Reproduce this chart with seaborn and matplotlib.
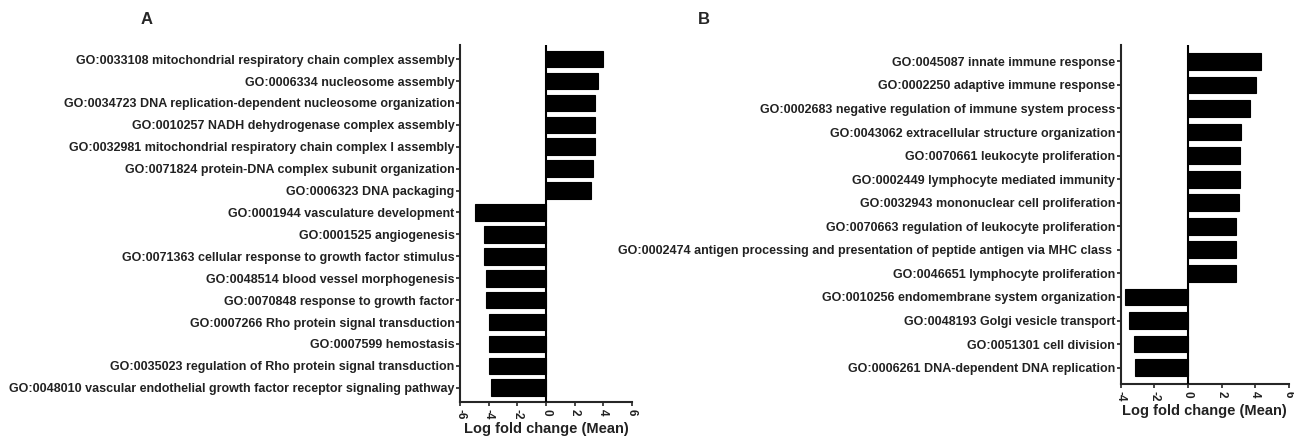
import pandas as pd
import numpy as np
import matplotlib.pyplot as plt
import seaborn as sns

# Panel A: GO terms and mean log fold change
terms_a = [
    "GO:0033108 mitochondrial respiratory chain complex assembly",
    "GO:0006334 nucleosome assembly",
    "GO:0034723 DNA replication-dependent nucleosome organization",
    "GO:0010257 NADH dehydrogenase complex assembly",
    "GO:0032981 mitochondrial respiratory chain complex I assembly",
    "GO:0071824 protein-DNA complex subunit organization",
    "GO:0006323 DNA packaging",
    "GO:0001944 vasculature development",
    "GO:0001525 angiogenesis",
    "GO:0071363 cellular response to growth factor stimulus",
    "GO:0048514 blood vessel morphogenesis",
    "GO:0070848 response to growth factor",
    "GO:0007266 Rho protein signal transduction",
    "GO:0007599 hemostasis",
    "GO:0035023 regulation of Rho protein signal transduction",
    "GO:0048010 vascular endothelial growth factor receptor signaling pathway",
]
lfc_a = [4.0, 3.6, 3.45, 3.45, 3.45, 3.3, 3.15,
         -4.95, -4.3, -4.3, -4.2, -4.2, -4.0, -3.95, -3.95, -3.85]
ticks_a = [-6, -4, -2, 0, 2, 4, 6]

# Panel B
terms_b = [
    "GO:0045087 innate immune response",
    "GO:0002250 adaptive immune response",
    "GO:0002683 negative regulation of immune system process",
    "GO:0043062 extracellular structure organization",
    "GO:0070661 leukocyte proliferation",
    "GO:0002449 lymphocyte mediated immunity",
    "GO:0032943 mononuclear cell proliferation",
    "GO:0070663 regulation of leukocyte proliferation",
    "GO:0002474 antigen processing and presentation of peptide antigen via MHC class ",
    "GO:0046651 lymphocyte proliferation",
    "GO:0010256 endomembrane system organization",
    "GO:0048193 Golgi vesicle transport",
    "GO:0051301 cell division",
    "GO:0006261 DNA-dependent DNA replication",
]
lfc_b = [4.32, 4.05, 3.67, 3.18, 3.1, 3.1, 3.02, 2.88, 2.88, 2.84,
         -3.75, -3.49, -3.2, -3.17]
ticks_b = [-4, -2, 0, 2, 4, 6]

sns.set_style("ticks")
plt.rcParams['font.family'] = ['Liberation Sans', 'DejaVu Sans']
plt.rcParams['font.weight'] = 'bold'

fig = plt.figure(figsize=(12.94, 4.4), dpi=100)
ax_a = fig.add_axes([0.3555, 0.0864, 0.1329, 0.8116])
ax_b = fig.add_axes([0.866, 0.127, 0.130, 0.771])


def draw_panel(ax, terms, values, ticks, width, pad_top, pad_bot):
    df = pd.DataFrame({"term": terms, "lfc": values})
    sns.barplot(data=df, x="lfc", y="term", orient="h", color="black",
                width=width, edgecolor="black", linewidth=0.8,
                saturation=1, ax=ax)
    n = len(terms)
    ax.set_ylim(n - 0.5 + pad_bot, -0.5 - pad_top)
    ax.set_xlim(ticks[0], ticks[-1])
    ax.set_xticks(ticks)
    ax.set_xticklabels([str(t) for t in ticks], rotation=-90, fontsize=8.5,
                       fontweight='bold', color='#222222')
    ax.axvline(0, color="black", lw=1.5, zorder=3)
    ax.set_ylabel("")
    ax.set_xlabel("Log fold change (Mean)", fontsize=10.5, fontweight='bold',
                  color='#222222', labelpad=2)
    ax.tick_params(axis='y', labelsize=9, length=3, width=1.2, pad=1,
                   colors='#222222')
    ax.tick_params(axis='x', length=3, width=1.2, pad=2)
    for lab in ax.get_yticklabels():
        lab.set_fontweight('bold')
    for s in ['left', 'bottom']:
        ax.spines[s].set_linewidth(1.5)
    sns.despine(ax=ax)


draw_panel(ax_a, terms_a, lfc_a, ticks_a, 0.76, 0.15, 0.15)
draw_panel(ax_b, terms_b, lfc_b, ticks_b, 0.71, 0.2, 0.2)

fig.text(147 / 1294, 1 - 20 / 440, "A", fontsize=12, fontweight='bold',
         ha='center', va='center')
fig.text(704 / 1294, 1 - 20 / 440, "B", fontsize=12, fontweight='bold',
         ha='center', va='center')

fig.savefig("out.png", dpi=100)
